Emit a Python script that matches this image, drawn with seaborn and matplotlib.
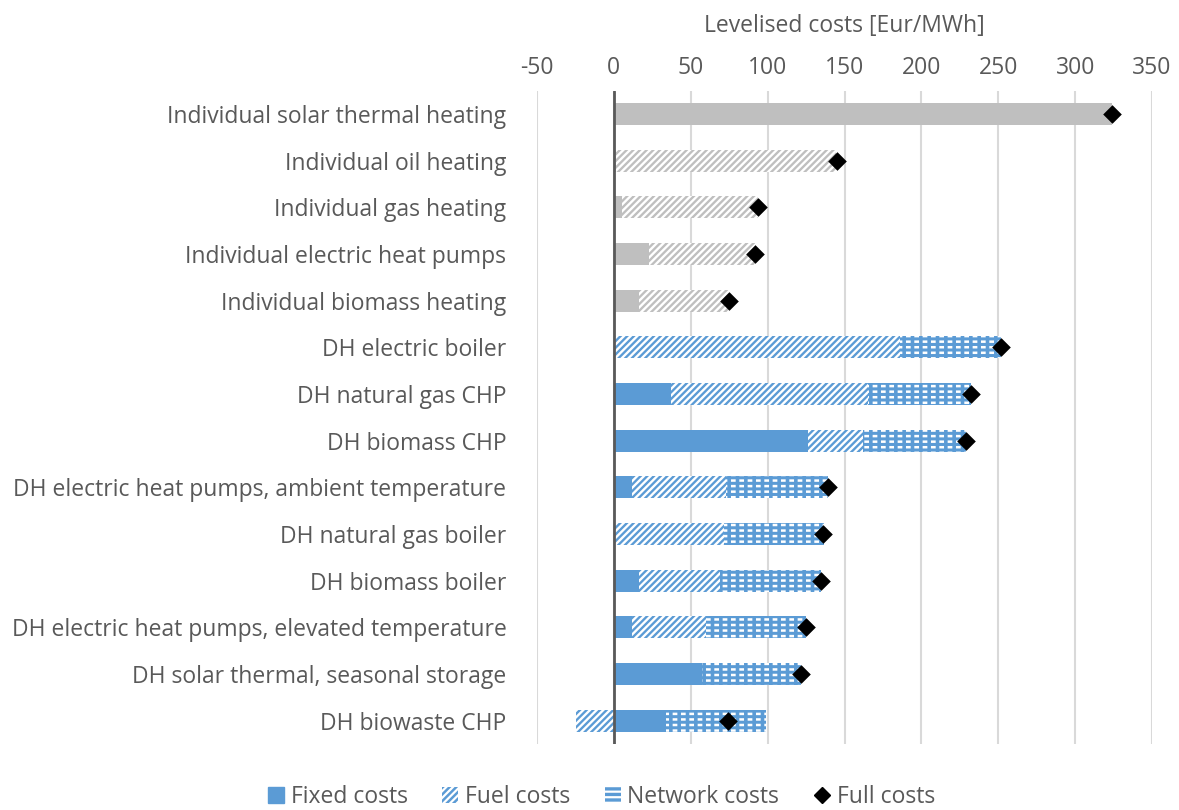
import numpy as np
import pandas as pd
import matplotlib
matplotlib.use("Agg")
import matplotlib.pyplot as plt
from matplotlib.patches import Patch
from matplotlib.lines import Line2D
import seaborn as sns

categories = [
    "Individual solar thermal heating",
    "Individual oil heating",
    "Individual gas heating",
    "Individual electric heat pumps",
    "Individual biomass heating",
    "DH electric boiler",
    "DH natural gas CHP",
    "DH biomass CHP",
    "DH electric heat pumps, ambient temperature",
    "DH natural gas boiler",
    "DH biomass boiler",
    "DH electric heat pumps, elevated temperature",
    "DH solar thermal, seasonal storage",
    "DH biowaste CHP",
]
groups = ["Individual"] * 5 + ["DH"] * 9
fixed_costs = [324, 1.5, 5, 23, 16, 1, 37, 126, 12, 0.5, 16, 12, 57, 34]
fuel_costs = [0, 143, 89, 69, 59, 185, 128, 36, 61, 71, 53, 48, 0, -24.6]
network_costs = [0, 0, 0, 0, 0, 66, 67, 67, 66, 65, 66, 65, 65, 65]
full_costs = [324, 145, 94, 92, 75, 252, 232, 229, 139, 136, 135, 125, 122, 74]
xticks = [-50, 0, 50, 100, 150, 200, 250, 300, 350]

GRAY = "#BFBFBF"
BLUE = "#5B9BD5"
TEXT = "#595959"
palette = {"Individual": GRAY, "DH": BLUE}
FS = 16.5

fixed = np.array(fixed_costs, dtype=float)
fuel = np.array(fuel_costs, dtype=float)
net = np.array(network_costs, dtype=float)
pos_fuel = np.clip(fuel, 0, None)

df = pd.DataFrame({
    "category": categories,
    "group": groups,
    "fixed": fixed,
    "fuel_layer": np.where(fuel < 0, fuel, fixed + fuel),
    "net_layer": fixed + pos_fuel + net,
    "full": full_costs,
})

sns.set_theme(style="white")
plt.rcParams["font.family"] = ["Open Sans", "DejaVu Sans"]
plt.rcParams["axes.unicode_minus"] = False

fig = plt.figure(figsize=(11.79, 8.10), dpi=100)
ax = fig.add_axes([0.4555, 0.0815, 0.5216, 0.8066])

common = dict(y="category", hue="group", palette=palette, legend=False,
              dodge=False, saturation=1, width=0.47, orient="y", ax=ax,
              order=categories)

# network layer: white horizontal lines broken into dashes by blue verticals
plt.rcParams["hatch.linewidth"] = 1.8
sns.barplot(data=df, x="net_layer", hatch="---", edgecolor="white",
            linewidth=0, **common)
plt.rcParams["hatch.linewidth"] = 2.6
sns.barplot(data=df, x="net_layer", hatch="||", edgecolor=BLUE,
            facecolor="none", linewidth=0, **common)
# fuel layer
plt.rcParams["hatch.linewidth"] = 1.7
sns.barplot(data=df, x="fuel_layer", hatch="/////", edgecolor="white",
            linewidth=0, **common)
# fixed layer
sns.barplot(data=df, x="fixed", linewidth=0, **common)

sns.scatterplot(data=df, x="full", y="category", marker="D", color="black",
                s=90, edgecolor="black", linewidth=0, zorder=5, ax=ax)

ax.set_xlim(-50, 350)
ax.set_xticks(xticks)
ax.xaxis.tick_top()
ax.xaxis.set_label_position("top")
ax.set_xlabel("Levelised costs [Eur/MWh]", color=TEXT, fontsize=FS, labelpad=17)
ax.set_ylabel("")
ax.tick_params(axis="x", length=0, pad=8, labelsize=FS, labelcolor=TEXT)
ax.tick_params(axis="y", length=0, pad=22, labelsize=FS, labelcolor=TEXT)
ax.grid(axis="x", color="#D9D9D9", linewidth=1.5)
ax.grid(axis="y", visible=False)
ax.set_axisbelow(True)
for s in ax.spines.values():
    s.set_visible(False)
ax.axvline(0, color="#595959", linewidth=2, zorder=4)
ax.set_ylim(len(categories) - 0.5, -0.5)

plt.rcParams["hatch.linewidth"] = 1.6
handles = [
    Patch(facecolor=BLUE, edgecolor=BLUE, label="Fixed costs"),
    Patch(facecolor=BLUE, edgecolor="white", hatch="/////", linewidth=0, label="Fuel costs"),
    Patch(facecolor=BLUE, edgecolor="white", hatch="---", linewidth=0, label="Network costs"),
    Line2D([], [], marker="D", color="black", linestyle="none", markersize=8, label="Full costs"),
]
leg = fig.legend(handles=handles, loc="lower center", bbox_to_anchor=(0.51, -0.024),
                 ncol=4, frameon=False, fontsize=FS, handlelength=0.7,
                 handleheight=0.7, handletextpad=0.3, columnspacing=1.5)
for t in leg.get_texts():
    t.set_color(TEXT)

fig.savefig("out.png", dpi=100)
